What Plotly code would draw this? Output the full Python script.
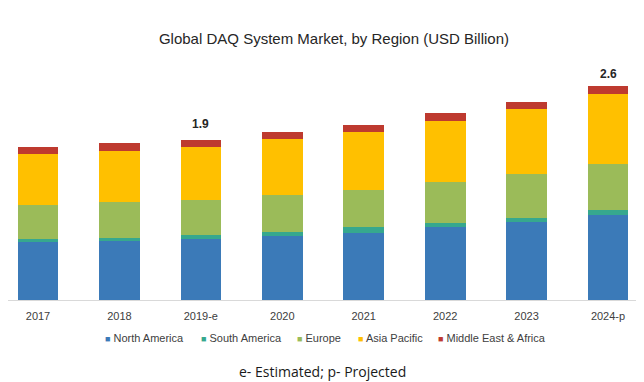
import plotly.graph_objects as go

categories = ["2017", "2018", "2019-e", "2020", "2021", "2022", "2023", "2024-p"]
north_america = [0.70, 0.71, 0.73, 0.77, 0.81, 0.88, 0.94, 1.03]
south_america = [0.04, 0.04, 0.05, 0.05, 0.07, 0.05, 0.05, 0.05]
europe = [0.41, 0.43, 0.43, 0.45, 0.45, 0.49, 0.53, 0.56]
asia_pacific = [0.61, 0.61, 0.63, 0.67, 0.69, 0.74, 0.78, 0.84]
middle_east_africa = [0.08, 0.10, 0.09, 0.09, 0.09, 0.09, 0.09, 0.10]
series_names = ["North America", "South America", "Europe", "Asia Pacific", "Middle East & Africa"]
series_colors = ["#3B7AB8", "#36A88E", "#9BBB59", "#FFC000", "#BE3A2F"]
total_labels = {"2019-e": "1.9", "2024-p": "2.6"}

# page has an 8px body margin; work in figure coordinates = page coordinates - 8
OFF = 8
W, H = 644 - OFF, 382 - OFF
L, R, T, B = 0, 0, 32, 82
PH = H - T - B


def px_x(x):
    return (x - OFF - L) / (W - L - R)


def px_y(y):
    return (H - B - (y - OFF)) / PH


series = [north_america, south_america, europe, asia_pacific, middle_east_africa]
fig = go.Figure()
for name, vals, col in zip(series_names, series, series_colors):
    fig.add_trace(go.Bar(x=categories, y=vals, name=name, marker=dict(color=col, line=dict(width=0)),
                         showlegend=False))

label_shift = {"2019-e": 7, "2024-p": 3}
totals = [sum(v) for v in zip(*series)]
for cat, tot in zip(categories, totals):
    if cat in total_labels:
        fig.add_annotation(x=cat, y=tot, xref="x", yref="y", text="<b>" + total_labels[cat] + "</b>",
                           showarrow=False, yanchor="bottom", yshift=label_shift[cat],
                           font=dict(family="Liberation Sans, Arial", size=12, color="#262626"))

# legend row (text annotations with coloured squares)
legend_x = [103, 199, 295, 356, 436]
for name, col, lx in zip(series_names, series_colors, legend_x):
    fig.add_annotation(x=px_x(lx), y=px_y(338), xref="paper", yref="paper", xanchor="left", yanchor="middle",
                       text=f"<span style='color:{col};font-size:9px'>■</span> {name}", showarrow=False,
                       font=dict(family="Liberation Sans, Arial", size=11, color="#404040"))

fig.add_annotation(x=px_x(322), y=px_y(371), xref="paper", yref="paper", xanchor="center", yanchor="middle",
                   text="e- Estimated; p- Projected", showarrow=False,
                   font=dict(family="Open Sans, Noto Sans", size=14, color="#1a1a1a"))

step = (608 - 38) / 7
x0 = -(38 - OFF) / step
fig.update_layout(
    width=W, height=H,
    margin=dict(l=L, r=R, t=T, b=B),
    barmode="stack", bargap=0.5,
    plot_bgcolor="white", paper_bgcolor="white",
    title=dict(text="Global DAQ System Market, by Region (USD Billion)", x=(334 - OFF) / W, xanchor="center",
               xref="container", y=1 - (39 - OFF) / H, yanchor="middle", yref="container",
               font=dict(family="Liberation Sans, Arial", size=15, color="#262626")),
    xaxis=dict(range=[x0, x0 + W / step], showgrid=False, showline=True, linecolor="#D9D9D9", linewidth=1,
               ticks="", ticklabelstandoff=6,
               tickfont=dict(family="Liberation Sans, Arial", size=11, color="#404040")),
    yaxis=dict(range=[0, PH / 83], visible=False, showgrid=False),
    showlegend=False,
)

fig.write_html("out.html")
